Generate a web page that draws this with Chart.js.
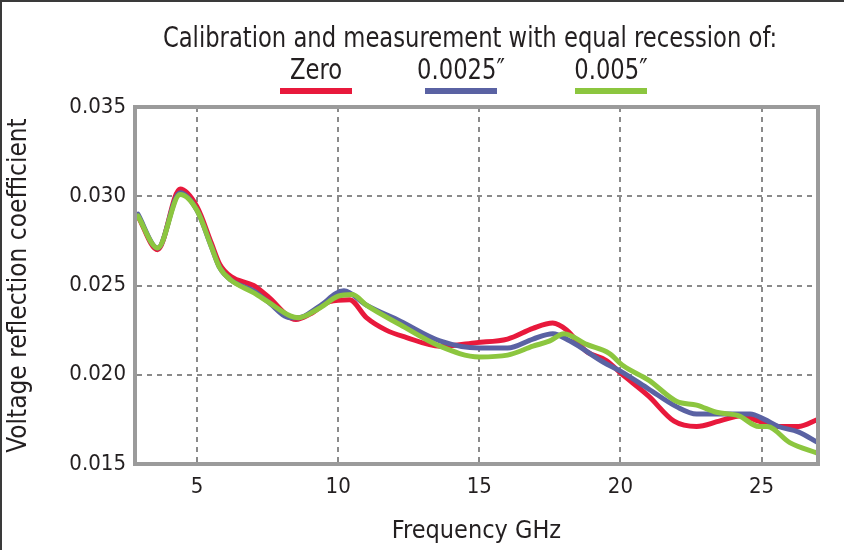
<!DOCTYPE html>
<html>
<head>
<meta charset="utf-8">
<script src="https://cdn.jsdelivr.net/npm/chart.js@4.4.0/dist/chart.umd.min.js"></script>
<style>
  html, body { margin: 0; padding: 0; background: #fff; }
  #wrap { position: relative; width: 844px; height: 550px; }
</style>
</head>
<body>
<div id="wrap"><canvas id="chart"></canvas></div>
<script>
// --- data ---
const seriesNames = ['Zero', '0.0025\u2033', '0.005\u2033'];
const seriesColors = ['#e8193c', '#5a62a3', '#8cc63f'];

const zeroFreq = [2.9, 3.6, 4.4, 5.0, 5.5, 5.8, 6.2, 7.0, 7.5, 8.5, 9.0, 9.7, 10.4, 11.0, 11.7, 12.4, 13.6, 14.9, 16.0, 16.9, 17.6, 18.1, 18.8, 19.5, 20.0, 21.0, 21.9, 22.7, 23.5, 24.3, 24.9, 25.6, 26.3, 27.0];
const zeroVals = [0.0289, 0.0270, 0.0304, 0.0294, 0.0274, 0.0262, 0.0255, 0.0250, 0.0244, 0.0231, 0.0234, 0.0241, 0.0242, 0.0232, 0.0225, 0.0221, 0.0216, 0.0218, 0.0220, 0.0226, 0.0229, 0.0225, 0.0213, 0.0208, 0.0201, 0.0188, 0.0174, 0.0171, 0.0174, 0.0177, 0.0174, 0.0171, 0.0171, 0.0175];

const r25Freq = [2.9, 3.6, 4.4, 5.0, 5.5, 5.8, 6.2, 7.0, 7.5, 8.3, 8.6, 9.3, 10.2, 11.0, 12.2, 13.6, 15.0, 16.0, 16.9, 17.6, 18.2, 19.4, 20.0, 21.0, 22.0, 22.7, 23.6, 24.6, 25.1, 25.6, 26.3, 27.0];
const r25Vals = [0.0290, 0.0271, 0.0302, 0.0292, 0.0272, 0.0260, 0.0253, 0.0247, 0.0241, 0.0232, 0.0232, 0.0238, 0.0247, 0.0239, 0.0230, 0.0219, 0.0215, 0.0215, 0.0220, 0.0223, 0.0219, 0.0207, 0.0202, 0.0192, 0.0182, 0.0178, 0.0178, 0.0178, 0.0175, 0.0171, 0.0168, 0.0162];

const r50Freq = [2.9, 3.6, 4.4, 5.0, 5.5, 5.8, 6.2, 7.0, 7.5, 8.3, 8.6, 9.3, 10.0, 10.5, 11.0, 12.2, 13.6, 15.0, 16.0, 16.9, 17.5, 18.0, 18.8, 19.6, 20.1, 21.0, 22.0, 22.7, 23.4, 24.2, 24.9, 25.2, 26.0, 27.0];
const r50Vals = [0.0289, 0.0271, 0.0301, 0.0292, 0.0272, 0.0260, 0.0253, 0.0246, 0.0241, 0.0233, 0.0232, 0.0237, 0.0244, 0.0245, 0.0239, 0.0228, 0.0216, 0.0210, 0.0211, 0.0216, 0.0219, 0.0223, 0.0217, 0.0212, 0.0205, 0.0197, 0.0185, 0.0183, 0.0179, 0.0177, 0.0171, 0.0171, 0.0162, 0.0156];

const xTicks = [5, 10, 15, 20, 25];
const yTicks = [0.015, 0.020, 0.025, 0.030, 0.035];

const FONT = '"Liberation Sans Narrow", "DejaVu Sans Condensed", "Liberation Sans", sans-serif';

function toPoints(xs, ys) { return xs.map((x, i) => ({ x: x, y: ys[i] })); }

// squeezed text, the original uses a condensed face
function narrowText(c, txt, cx, y, sx) {
    c.save();
    c.translate(cx, y);
    c.scale(sx, 1);
    c.fillText(txt, 0, 0);
    c.restore();
}

// --- frame, plot box, title + legend (label above a short coloured bar) ---
const headerPlugin = {
    id: 'header',
    afterDraw(chart) {
        const c = chart.ctx;
        const a = chart.chartArea;
        c.save();
        c.fillStyle = '#3a3a3a';
        c.fillRect(0, 0, 844, 2);
        c.fillRect(0, 0, 2, 550);

        c.strokeStyle = '#9b9b9b';
        c.lineWidth = 4;
        c.strokeRect(a.left, a.top, a.right - a.left, a.bottom - a.top);

        c.fillStyle = '#231f20';
        c.textAlign = 'center';
        c.textBaseline = 'alphabetic';
        c.font = '28px ' + FONT;
        narrowText(c, 'Calibration and measurement with equal recession of:', 470, 47, 0.9);

        const centers = [316, 461, 611];
        chart.data.datasets.forEach((ds, i) => {
            c.fillStyle = '#231f20';
            c.font = '28px ' + FONT;
            narrowText(c, ds.label, centers[i], 79, 0.9);
            c.fillStyle = ds.borderColor;
            c.fillRect(centers[i] - 36, 88, 72, 6);
        });
        c.restore();
    }
};

const ctx = document.getElementById('chart').getContext('2d');
const chart = new Chart(ctx, {
    type: 'line',
    data: {
        datasets: [
            { label: seriesNames[0], data: toPoints(zeroFreq, zeroVals), borderColor: seriesColors[0], order: 3 },
            { label: seriesNames[1], data: toPoints(r25Freq, r25Vals), borderColor: seriesColors[1], order: 2 },
            { label: seriesNames[2], data: toPoints(r50Freq, r50Vals), borderColor: seriesColors[2], order: 1 }
        ]
    },
    options: {
        responsive: true,
        maintainAspectRatio: false,
        animation: false,
        layout: { padding: { top: 107, right: 26, left: 0, bottom: 0 } },
        elements: {
            line: { borderWidth: 5, tension: 0.4, cubicInterpolationMode: 'monotone', fill: false, borderCapStyle: 'round', borderJoinStyle: 'round' },
            point: { radius: 0 }
        },
        plugins: { legend: { display: false }, title: { display: false }, tooltip: { enabled: false } },
        scales: {
            x: {
                type: 'linear', min: 2.8, max: 27,
                afterFit: s => { s.height = 86; },
                afterBuildTicks: s => { s.ticks = xTicks.map(v => ({ value: v })); },
                ticks: { color: '#231f20', font: { family: FONT, size: 22 }, padding: 10 },
                grid: { color: '#8a8a8a', lineWidth: 2, drawTicks: false },
                border: { color: '#9b9b9b', width: 4, dash: [5, 5] },
                title: { display: true, text: 'Frequency GHz', color: '#231f20', font: { family: FONT, size: 25 }, padding: { top: 4 } }
            },
            y: {
                min: 0.015, max: 0.035,
                afterFit: s => { s.width = 135; },
                afterBuildTicks: s => { s.ticks = yTicks.map(v => ({ value: v })); },
                ticks: { color: '#231f20', font: { family: FONT, size: 22 }, padding: 9, callback: v => v.toFixed(3) },
                grid: { color: '#8a8a8a', lineWidth: 2, drawTicks: false },
                border: { color: '#9b9b9b', width: 4, dash: [5, 5] },
                title: { display: true, text: 'Voltage reflection coefficient', color: '#231f20', font: { family: FONT, size: 26 }, padding: { bottom: 2 } }
            }
        }
    },
    plugins: [headerPlugin]
});
</script>
</body>
</html>
